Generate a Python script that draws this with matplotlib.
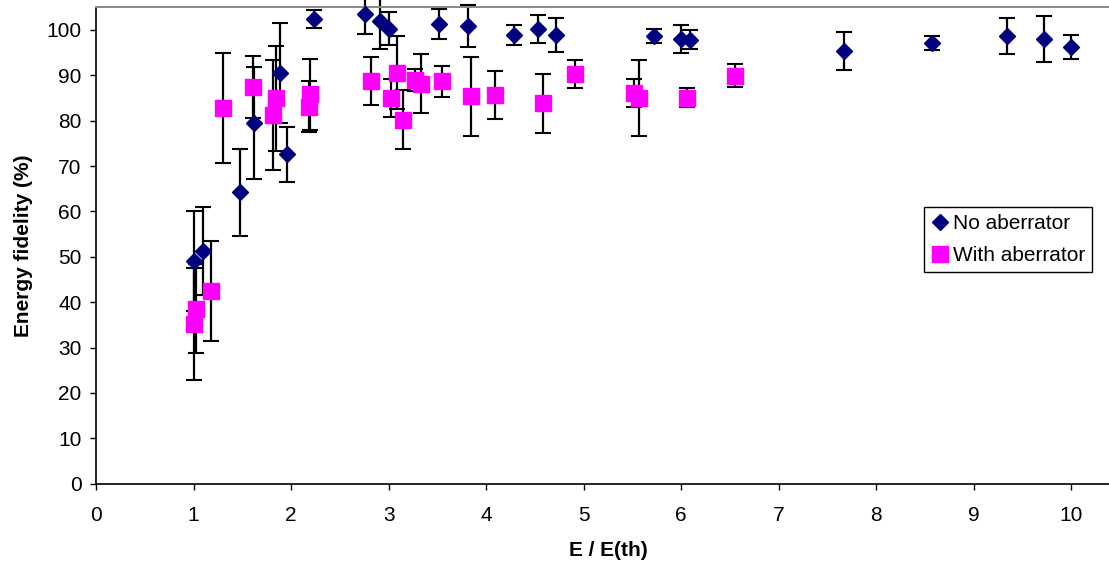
import matplotlib
matplotlib.use("Agg")
import matplotlib.pyplot as plt

plt.rcParams['font.family'] = ['Liberation Sans', 'DejaVu Sans']

# Series without the aberrator
x_no = [1.00, 1.10, 1.48, 1.62, 1.89, 1.96, 2.24, 2.76, 2.91, 3.00, 3.52, 3.81,
        4.29, 4.53, 4.72, 5.72, 6.00, 6.09, 7.67, 8.57, 9.34, 9.72, 10.00]
y_no = [49.1, 51.2, 64.2, 79.5, 90.6, 72.6, 102.4, 103.6, 101.9, 100.3, 101.3, 100.8,
        99.0, 100.2, 98.9, 98.7, 98.0, 97.9, 95.3, 97.1, 98.7, 98.0, 96.3]
err_no = [11.0, 9.7, 9.6, 12.3, 11.0, 6.1, 1.9, 4.4, 6.1, 3.6, 3.3, 4.6,
          2.2, 3.0, 3.8, 1.5, 3.1, 2.2, 4.2, 1.6, 4.0, 5.0, 2.7]

# Series with the aberrator
x_ab = [1.00, 1.03, 1.18, 1.30, 1.61, 1.82, 1.85, 2.18, 2.19, 2.82, 3.03, 3.09,
        3.15, 3.27, 3.33, 3.55, 3.85, 4.09, 4.58, 4.91, 5.52, 5.57, 6.06, 6.55]
y_ab = [35.2, 38.6, 42.4, 82.8, 87.4, 81.2, 84.9, 83.1, 85.8, 88.7, 85.1, 90.6,
        80.2, 89.0, 88.1, 88.7, 85.4, 85.7, 83.9, 90.3, 86.1, 85.0, 85.1, 89.9]
err_ab = [12.3, 9.8, 11.0, 12.2, 6.8, 12.1, 11.6, 5.6, 7.8, 5.3, 4.2, 8.0,
          6.5, 2.5, 6.5, 3.4, 8.7, 5.3, 6.5, 3.0, 3.0, 8.4, 2.1, 2.5]

labels = ["No aberrator", "With aberrator"]
x_ticks = list(range(0, 11))
y_ticks = list(range(0, 101, 10))

W, H = 1109, 562
fig = plt.figure(figsize=(W / 100, H / 100), dpi=100)
ax = fig.add_axes([96 / W, 1 - 483.7 / H, 1024 / W, 476.4 / H])

# Error bars first so every marker sits on top of them
for xs, ys, es in ((x_no, y_no, err_no), (x_ab, y_ab, err_ab)):
    cont = ax.errorbar(xs, ys, yerr=es, fmt='none', ecolor='black',
                       elinewidth=1.6, capsize=5.8, capthick=1.5, zorder=2)
    for art in cont.get_children():
        art.set_clip_on(False)

ax.plot(x_no, y_no, linestyle='none', marker='D', markersize=7.7,
        color='#000080', label=labels[0], zorder=3, clip_on=False)
ax.plot(x_ab, y_ab, linestyle='none', marker='s', markersize=11,
        color='#FF00FF', label=labels[1], zorder=4, clip_on=False)

ax.set_xlim(0, 10.5)
ax.set_ylim(0, 105)
ax.set_xticks(x_ticks)
ax.set_yticks(y_ticks)

ax.tick_params(axis='both', direction='out', length=4.3, width=1.0,
               labelsize=15, color='black')
ax.tick_params(axis='x', pad=12.0)
ax.tick_params(axis='y', pad=6.0)

for side in ('left', 'bottom'):
    ax.spines[side].set_color('black')
    ax.spines[side].set_linewidth(1.2)
ax.spines['top'].set_color('#888888')
ax.spines['top'].set_linewidth(1.4)
ax.spines['right'].set_visible(False)

ax.set_xlabel("E / E(th)", fontsize=15, fontweight='bold')
ax.set_ylabel("Energy fidelity (%)", fontsize=15, fontweight='bold')
ax.xaxis.set_label_coords(512 / 1024, -0.121)
ax.yaxis.set_label_coords(-0.062, 0.5)

leg = ax.legend(loc='upper left', bbox_to_anchor=(924 / W, 1 - 207 / H),
                bbox_transform=fig.transFigure, fontsize=15, frameon=True,
                fancybox=False, shadow=False, borderaxespad=0, numpoints=1,
                borderpad=0.34, labelspacing=0.62, handlelength=0.9,
                handletextpad=0.15)
leg.get_frame().set_edgecolor('black')
leg.get_frame().set_linewidth(1.0)
leg.get_frame().set_alpha(1.0)

fig.savefig("out.png", dpi=100, facecolor='white')
